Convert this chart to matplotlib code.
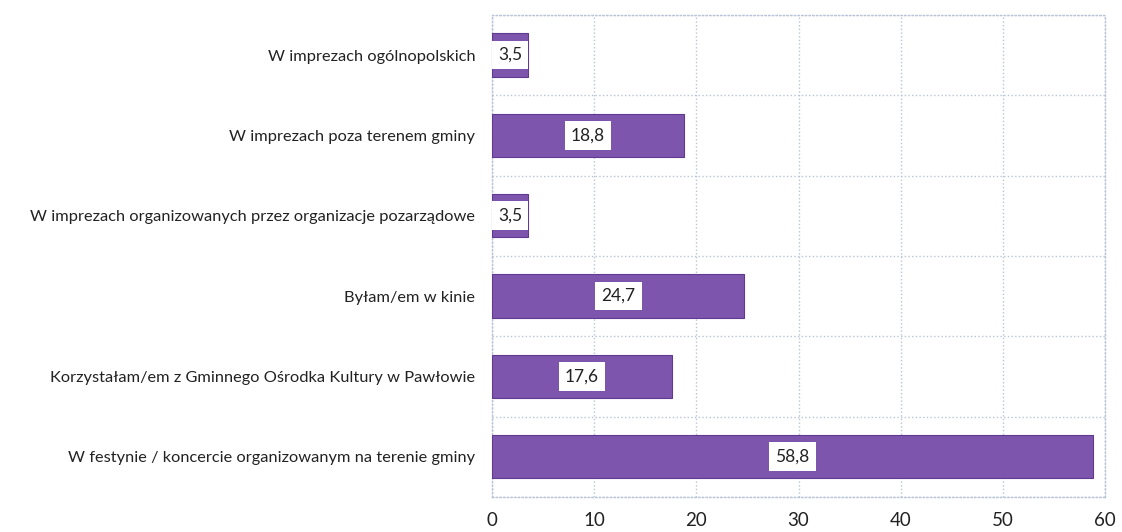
import matplotlib.pyplot as plt
import numpy as np

categories = [
	'W imprezach ogólnopolskich',
	'W imprezach poza terenem gminy',
	'W imprezach organizowanych przez organizacje pozarządowe',
	'Byłam/em w kinie',
	'Korzystałam/em z Gminnego Ośrodka Kultury w Pawłowie',
	'W festynie / koncercie organizowanym na terenie gminy',
]
values = [3.5, 18.8, 3.5, 24.7, 17.6, 58.8]
value_labels = ['3,5', '18,8', '3,5', '24,7', '17,6', '58,8']
xticks = [0, 10, 20, 30, 40, 50, 60]

plt.rcParams['font.family'] = ['Lato', 'DejaVu Sans']

fig, ax = plt.subplots(figsize=(11.22, 5.32), dpi=100)
fig.subplots_adjust(left=0.4385, right=0.985, top=0.972, bottom=0.066)

y = np.arange(len(categories))
bars = ax.barh(y, values, height=0.54, color='#7d55ad', edgecolor='#5e3a92', linewidth=0.8, zorder=3)

for b, lab in zip(bars, value_labels):
	ax.text(b.get_x() + b.get_width() / 2, b.get_y() + b.get_height() / 2, lab,
		ha='center', va='center', fontsize=12.5, color='#222222', zorder=4,
		bbox=dict(facecolor='white', edgecolor='none', pad=4.5))

ax.set_xlim(0, 60)
ax.set_ylim(len(categories) - 0.5, -0.5)
ax.set_xticks(xticks)
ax.set_xticklabels([str(t) for t in xticks], fontsize=13.5, color='#222222')
ax.set_yticks(y)
ax.set_yticklabels(categories, fontsize=11.8, color='#222222')
ax.tick_params(axis='both', length=0)
ax.tick_params(axis='x', pad=11)
ax.tick_params(axis='y', pad=12)

ax.set_yticks(np.arange(-0.5, len(categories), 1), minor=True)
ax.tick_params(axis='y', which='minor', length=0)
ax.grid(axis='x', color='#b8c4d6', linestyle=':', linewidth=1, zorder=0)
ax.grid(axis='y', which='minor', color='#b8c4d6', linestyle=':', linewidth=1, zorder=0)
ax.grid(axis='y', which='major', visible=False)
for s in ax.spines.values():
	s.set_color('#b8c4d6')
	s.set_linestyle(':')
	s.set_linewidth(1)

plt.savefig('out.png', dpi=100)
